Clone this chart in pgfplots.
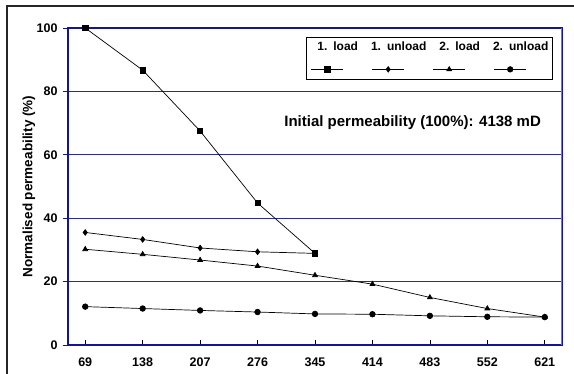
\documentclass[border=0pt]{standalone}
\usepackage{fontspec}
\setmainfont{Liberation Sans}
\usepackage{pgfplots}
\pgfplotsset{compat=1.18}
\definecolor{navyc}{RGB}{20,20,150}
\definecolor{gridc}{RGB}{40,40,170}
\begin{document}
\begin{tikzpicture}
\path[use as bounding box] (-68pt,-29pt) rectangle (506pt,345pt);
\draw[line width=1.3pt, black!85] (-61pt,-40pt) -- (-61pt,339pt) -- (520pt,339pt);
\begin{axis}[
  at={(0,0)}, anchor=south west,
  scale only axis, width=494pt, height=317pt,
  xmin=-0.3, xmax=8.3, ymin=0, ymax=100,
  xtick={0,...,8},
  xticklabels={69,138,207,276,345,414,483,552,621},
  ytick={0,20,40,60,80,100},
  xtick pos=bottom, ytick pos=left,
  xtick align=inside, ytick align=outside,
  major tick length=5pt,
  x tick style={black, line width=0.6pt},
  y tick style={navyc, line width=0.6pt},
  ymajorgrids,
  major grid style={gridc, line width=0.8pt},
  axis line style={draw=navyc, line width=1.1pt},
  /pgf/number format/assume math mode=true,
  ticklabel style={font=\bfseries\fontsize{12.5}{14}\selectfont},
  xticklabel style={yshift=-9pt},
  yticklabel style={xshift=-2pt},
  ylabel={Normalised permeability (\%)},
  every axis y label/.style={at={(axis description cs:0,0.5)}, xshift=-39pt, rotate=90, anchor=center, font=\bfseries\fontsize{13.5}{15}\selectfont},
  legend columns=4,
  legend cell align=center,
  legend style={at={(0.981,0.972)}, anchor=north east, draw=black, line width=0.8pt,
    font=\bfseries\fontsize{12}{14}\selectfont,
    column sep=0pt, inner ysep=3pt, inner xsep=1pt,
    cells={inner xsep=0pt, text width=57pt, align=center}},
  legend image code/.code={
    \path[draw=none] (0pt,0pt) -- (0pt,-29pt);
    \draw[overlay, line width=0.6pt, mark repeat=2, mark phase=2, #1] plot coordinates {(4pt,-22pt) (20pt,-22pt) (36pt,-22pt)};
  },
  every axis plot/.append style={black, line width=0.7pt},
]
\addplot[mark=square*, mark size=2.7pt] coordinates {(0,100) (1,86.7) (2,67.5) (3,44.8) (4,28.9)};
\addlegendentry{1. load}
\addplot[mark=diamond*, mark size=2.8pt] coordinates {(0,35.5) (1,33.3) (2,30.6) (3,29.4) (4,28.9)};
\addlegendentry{1. unload}
\addplot[mark=triangle*, mark size=2.8pt] coordinates {(0,30.2) (1,28.6) (2,26.8) (3,24.9) (4,22.0) (5,19.2) (6,15.0) (7,11.5) (8,8.8)};
\addlegendentry{2. load}
\addplot[mark=*, mark size=2.8pt] coordinates {(0,12.1) (1,11.5) (2,10.9) (3,10.4) (4,9.8) (5,9.7) (6,9.2) (7,8.9) (8,8.8)};
\addlegendentry{2. unload}
\draw[gray, line width=1.1pt] (rel axis cs:1,0) -- (rel axis cs:1,1);
\node[font=\bfseries\fontsize{15}{17}\selectfont] at (axis cs:5.7,70) {Initial permeability (100\%): 4138 mD};
\end{axis}
\end{tikzpicture}
\end{document}
